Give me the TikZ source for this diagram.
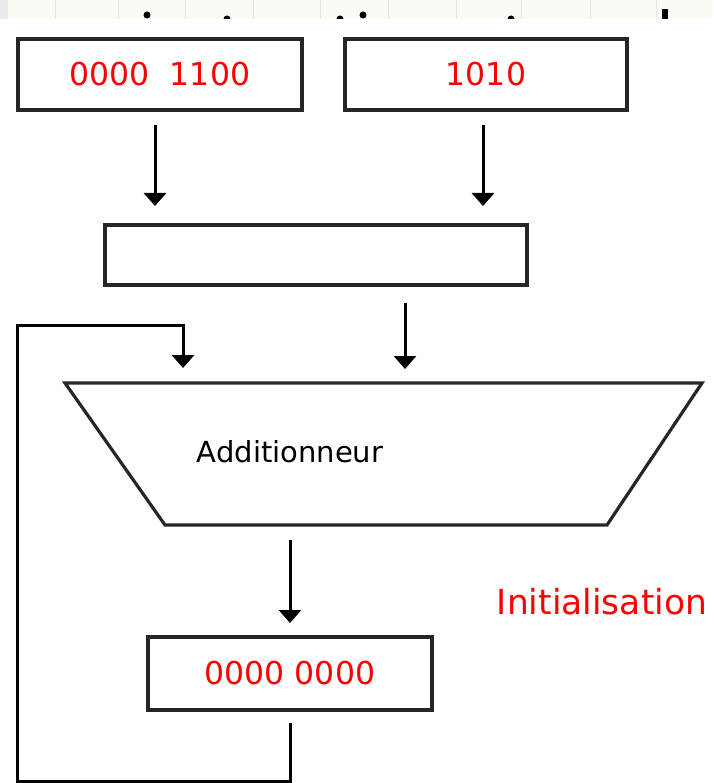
\documentclass[tikz,border=0pt]{standalone}
\usepackage{fontspec}
\setmainfont{DejaVu Sans}
\usetikzlibrary{arrows.meta}
\definecolor{stripbg}{RGB}{250,251,244}
\definecolor{gridln}{RGB}{228,230,224}
\tikzset{
  regbox/.style={draw=black!85, line width=3.4pt, inner sep=0pt, font=\fontsize{31.5}{36}\selectfont, text=red},
  flow/.style={draw=black, line width=3pt, -{Triangle[width=22pt,length=13pt]}},
  wire/.style={draw=black!85, line width=3.2pt},
}
\begin{document}
\begin{tikzpicture}[x=1pt,y=-1pt]
\useasboundingbox (0,0) rectangle (713,783);

% clipped strip of the page above
\begin{scope}
  \clip (0,0) rectangle (713,19);
  \fill[stripbg] (0,0) rectangle (713,19);
  \fill[black!8] (0,0) rectangle (8,19);
  \foreach \gx in {55,118,185,253,320,388,456,521,590,656}
    \draw[gridln, line width=1pt] (\gx,0) -- (\gx,19);
  \fill (147,15) circle (3.5);
  \fill (227,19) circle (3.5);
  \fill (340,19) circle (3.5);
  \fill (363,15) circle (3.5);
  \fill (511,19) circle (3.5);
  \fill (662,9) rectangle (668,19);
\end{scope}

% registers
\node[regbox, minimum width=284pt, minimum height=71pt] (opA) at (160,74.5) {0000\ \ 1100};
\node[regbox, minimum width=282pt, minimum height=71pt] (opB) at (486,74.5) {1010};
\node[regbox, minimum width=422pt, minimum height=60pt] (mux) at (316,255) {};
\node[regbox, minimum width=284pt, minimum height=73pt] (acc) at (290,673.5) {0000 0000};

% adder (inverted trapezium)
\draw[wire, line join=miter] (65,383) -- (702,383) -- (607,525) -- (165,525) -- cycle;
\node[font=\fontsize{29}{33}\selectfont] (adder) at (290,452) {Additionneur};

\node[font=\fontsize{34.5}{40}\selectfont, text=red] (init) at (602,602) {Initialisation};

% arrow end points
\coordinate (aA) at (155,125);  \coordinate (tA) at (155,206);
\coordinate (aB) at (483,125);  \coordinate (tB) at (483,206);
\coordinate (aC) at (405,303);  \coordinate (tC) at (405,369);
\coordinate (aS) at (290,540);  \coordinate (tS) at (290,623);
\coordinate (fb0) at (290,723);
\coordinate (fb1) at (290,781);
\coordinate (fb2) at (17,781);
\coordinate (fb3) at (17,325);
\coordinate (fb4) at (183,325);
\coordinate (fbT) at (183,368);

\draw[flow] (aA) -- (tA);
\draw[flow] (aB) -- (tB);
\draw[flow] (aC) -- (tC);
\draw[flow] (aS) -- (tS);
\draw[flow, line join=miter] (fb0) -- (fb1) -- (fb2) -- (fb3) -- (fb4) -- (fbT);
\end{tikzpicture}
\end{document}
